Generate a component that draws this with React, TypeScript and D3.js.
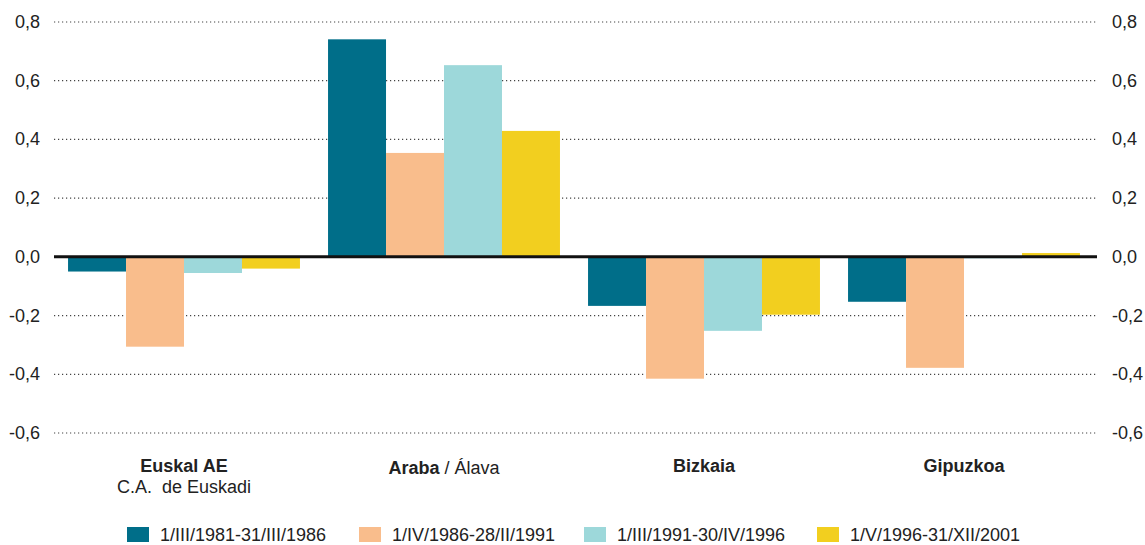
import React, { useRef, useEffect } from "react";
import * as d3 from "d3";

const regions = ["Euskal AE", "Araba / Álava", "Bizkaia", "Gipuzkoa"];
const periods = [
  "1/III/1981-31/III/1986",
  "1/IV/1986-28/II/1991",
  "1/III/1991-30/IV/1996",
  "1/V/1996-31/XII/2001",
];
const p1981 = [-0.05, 0.741, -0.167, -0.153];
const p1986 = [-0.306, 0.354, -0.415, -0.378];
const p1991 = [-0.055, 0.653, -0.252, -0.005];
const p1996 = [-0.04, 0.429, -0.197, 0.013];
const yTicks = [-0.6, -0.4, -0.2, 0, 0.2, 0.4, 0.6, 0.8];
const colors = ["#006e89", "#f9bd8c", "#9dd8da", "#f2cf1f"];

const App: React.FC = () => {
  const ref = useRef<SVGSVGElement | null>(null);

  useEffect(() => {
    if (!ref.current) return;
    const svg = d3.select(ref.current);
    svg.selectAll("*").remove();

    const width = 1145;
    const height = 545;
    const left = 54;
    const right = 1094;
    const font = "'Liberation Sans', Arial, sans-serif";
    const series = [p1981, p1986, p1991, p1996];

    svg.attr("width", width).attr("height", height);

    const x0 = d3
      .scaleBand<string>()
      .domain(regions)
      .range([left, right])
      .paddingInner(0.108)
      .paddingOuter(0.054);
    const x1 = d3
      .scaleBand<string>()
      .domain(periods)
      .range([0, x0.bandwidth()]);
    const y = d3.scaleLinear().domain([-0.6, 0.8]).range([433, 22]);

    const fmt = (v: number) => d3.format(".1f")(v).replace(".", ",").replace("−", "-");

    // grid
    svg
      .append("g")
      .selectAll("line")
      .data(yTicks.filter((t) => t !== 0))
      .enter()
      .append("line")
      .attr("x1", left)
      .attr("x2", right + 3)
      .attr("y1", (d) => y(d))
      .attr("y2", (d) => y(d))
      .attr("stroke", "#444")
      .attr("stroke-width", 1.2)
      .attr("stroke-dasharray", "1.2,2.8");

    // bars
    const groups = svg
      .append("g")
      .selectAll("g")
      .data(regions)
      .enter()
      .append("g")
      .attr("transform", (d) => `translate(${x0(d)},0)`);

    groups
      .selectAll("rect")
      .data((_, i) => series.map((s, k) => ({ k, v: s[i] })))
      .enter()
      .append("rect")
      .attr("x", (d) => x1(periods[d.k]) as number)
      .attr("width", x1.bandwidth())
      .attr("y", (d) => y(Math.max(0, d.v)))
      .attr("height", (d) => Math.abs(y(d.v) - y(0)))
      .attr("fill", (d) => colors[d.k]);

    // zero line
    svg
      .append("line")
      .attr("x1", left)
      .attr("x2", right + 3)
      .attr("y1", y(0))
      .attr("y2", y(0))
      .attr("stroke", "#111")
      .attr("stroke-width", 3);

    // tick labels
    const tickText = svg
      .append("g")
      .attr("font-family", font)
      .attr("font-size", 18)
      .attr("fill", "#222");
    tickText
      .selectAll("text.l")
      .data(yTicks)
      .enter()
      .append("text")
      .attr("x", 40)
      .attr("y", (d) => y(d) + 6)
      .attr("text-anchor", "end")
      .text((d) => fmt(d));
    tickText
      .selectAll("text.r")
      .data(yTicks)
      .enter()
      .append("text")
      .attr("x", 1112)
      .attr("y", (d) => y(d) + 6)
      .text((d) => fmt(d));

    // category labels
    const cat = svg
      .append("g")
      .attr("font-family", font)
      .attr("font-size", 18)
      .attr("fill", "#222")
      .attr("text-anchor", "middle");
    const cx = (r: string) => (x0(r) as number) + x0.bandwidth() / 2;

    cat
      .append("text")
      .attr("x", cx(regions[0]))
      .attr("y", 472)
      .attr("font-weight", "bold")
      .text("Euskal AE");
    cat
      .append("text")
      .attr("x", cx(regions[0]))
      .attr("y", 493)
      .attr("xml:space", "preserve")
      .text("C.A.  de Euskadi");
    const ar = cat.append("text").attr("x", cx(regions[1])).attr("y", 474);
    ar.append("tspan").attr("font-weight", "bold").text("Araba");
    ar.append("tspan").text(" / Álava");
    cat
      .append("text")
      .attr("x", cx(regions[2]))
      .attr("y", 472)
      .attr("font-weight", "bold")
      .text(regions[2]);
    cat
      .append("text")
      .attr("x", cx(regions[3]))
      .attr("y", 472)
      .attr("font-weight", "bold")
      .text(regions[3]);

    // legend
    const legX = [127, 359, 584, 817];
    const leg = svg
      .append("g")
      .attr("font-family", font)
      .attr("font-size", 18)
      .attr("fill", "#222");
    const items = leg
      .selectAll("g")
      .data(periods)
      .enter()
      .append("g")
      .attr("transform", (_, i) => `translate(${legX[i]},527)`);
    items
      .append("rect")
      .attr("width", 22)
      .attr("height", 15)
      .attr("fill", (_, i) => colors[i]);
    items
      .append("text")
      .attr("x", 33)
      .attr("y", 14)
      .text((d) => d);
  }, []);

  return (
    <svg
      ref={ref}
      style={{ position: "absolute", left: 0, top: 0, background: "#fff" }}
    />
  );
};

export default App;
